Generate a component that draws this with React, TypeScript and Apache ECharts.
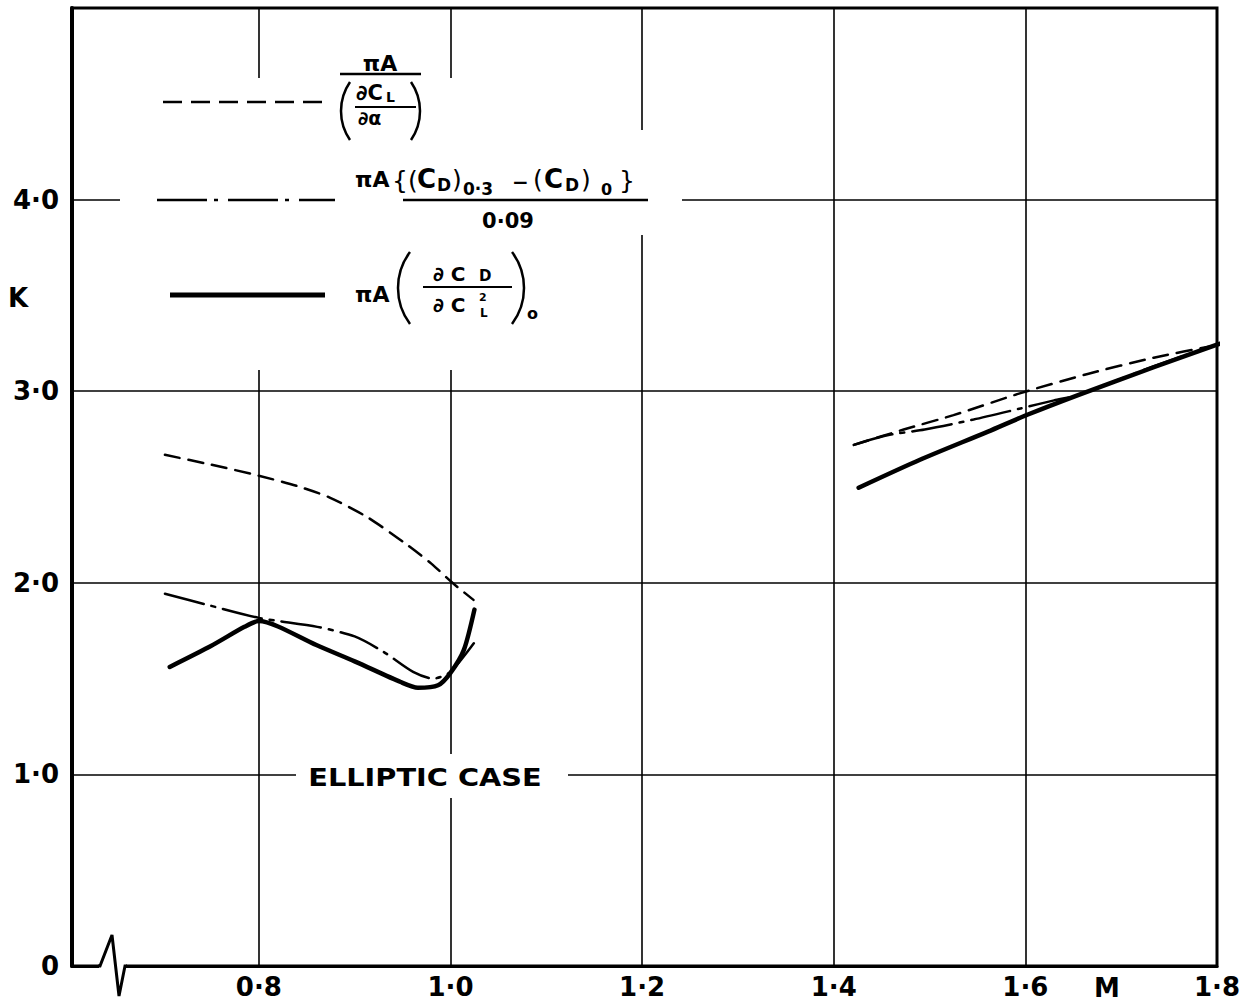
import React, { useEffect, useRef } from "react";
import * as echarts from "echarts";

// ---- data ----
const xTicks = [0.8, 1.0, 1.2, 1.4, 1.6, 1.8];
const xGrid = [0.8, 1.0, 1.2, 1.4, 1.6];
const yTicks = [0, 1, 2, 3, 4];

const dashedLeft = [[0.702, 2.668], [0.75, 2.617], [0.8, 2.559], [0.84, 2.505], [0.874, 2.445], [0.913, 2.343], [0.951, 2.212], [0.98, 2.1], [1.002, 2.0], [1.024, 1.911]];
const dashedRight = [[1.421, 2.72], [1.473, 2.8], [1.525, 2.875], [1.595, 2.99], [1.665, 3.09], [1.734, 3.175], [1.802, 3.243]];
const dashDotLeft = [[0.702, 1.943], [0.75, 1.88], [0.8, 1.817], [0.861, 1.77], [0.9, 1.72], [0.93, 1.64], [0.961, 1.535], [0.982, 1.5], [1.0, 1.535], [1.027, 1.702]];
const dashDotRight = [[1.421, 2.72], [1.456, 2.77], [1.495, 2.8], [1.546, 2.852], [1.595, 2.91], [1.63, 2.952], [1.655, 2.98], [1.734, 3.13], [1.8, 3.243]];
const solidLeft = [[0.707, 1.561], [0.75, 1.67], [0.785, 1.77], [0.8, 1.8], [0.82, 1.772], [0.86, 1.675], [0.9, 1.59], [0.948, 1.482], [0.966, 1.452], [0.987, 1.465], [1.0, 1.53], [1.014, 1.65], [1.025, 1.86]];
const solidRight = [[1.426, 2.496], [1.49, 2.642], [1.561, 2.789], [1.602, 2.877], [1.655, 2.98], [1.734, 3.125], [1.8, 3.243], [1.823, 3.282]];

const FONT = "DejaVu Sans";
const GRID = { left: 72, top: 8, right: 28, bottom: 40 };

const DASHED = [15, 9];
const DASHDOT = [40, 8, 4, 8];

function fmt(v: number) {
  if (v === 0) return "0";
  if (v >= 5) return "";
  return v.toFixed(1).replace(".", "·");
}

function txt(x: number, y: number, text: string, size: number, align = "left", weight = "bold", scaleX = 1) {
  return {
    type: "text",
    x,
    y,
    scaleX,
    z: 101,
    silent: true,
    style: { text, fontSize: size, fontWeight: weight, fontFamily: FONT, fill: "#000", align, verticalAlign: "middle" },
  };
}
function ln(x1: number, y1: number, x2: number, y2: number, w: number, dash?: number[]) {
  return {
    type: "line",
    z: 101,
    silent: true,
    shape: { x1, y1, x2, y2 },
    style: { stroke: "#000", lineWidth: w, lineDash: dash || null, lineCap: "butt" },
  };
}
function rect(x: number, y: number, w: number, h: number) {
  return { type: "rect", z: 100, silent: true, shape: { x, y, width: w, height: h }, style: { fill: "#fff" } };
}
// parenthesis drawn as an arc: edge = extreme x, cy center, half height, sagitta
function paren(edge: number, cy: number, half: number, sag: number, left: boolean, w = 2.5) {
  const r = (half * half + sag * sag) / (2 * sag);
  const a = Math.asin(half / r);
  return {
    type: "arc",
    z: 101,
    silent: true,
    shape: left
      ? { cx: edge + r, cy, r, startAngle: Math.PI - a, endAngle: Math.PI + a, clockwise: true }
      : { cx: edge - r, cy, r, startAngle: -a, endAngle: a, clockwise: true },
    style: { stroke: "#000", lineWidth: w, fill: null },
  };
}

function lineSeries(name: string, data: number[][], type: any, width: number) {
  return {
    name,
    type: "line",
    data,
    smooth: 0.25,
    showSymbol: false,
    symbol: "none",
    clip: false,
    silent: true,
    z: 5,
    lineStyle: { color: "#000", width, type, cap: "round" },
  };
}

export default function App() {
  const ref = useRef<HTMLDivElement>(null);
  useEffect(() => {
    if (!ref.current) return;
    const chart = echarts.init(ref.current, null, { renderer: "svg" });
    const bottomY = 1006 - GRID.bottom;

    const graphic: any[] = [
      // masks that break the grid lines around the key and the label
      rect(120, 78, 512, 292),
      rect(632, 130, 50, 105),
      rect(296, 754, 272, 44),
      // axis break on the M axis
      rect(99, bottomY - 4, 27, 8),
      {
        type: "polyline",
        z: 102,
        silent: true,
        shape: { points: [[98, bottomY], [100, bottomY], [112, bottomY - 31], [119, bottomY + 30], [125, bottomY], [127, bottomY]] },
        style: { stroke: "#000", lineWidth: 3, fill: null, lineJoin: "miter" },
      },
      // axis titles
      txt(8, 298, "K", 26),
      txt(1107, 988, "M", 26, "center"),
      txt(425, 777, "ELLIPTIC CASE", 24, "center", "bold", 1.2),

      // key: dashed
      ln(163, 102, 325, 102, 2.5, [19, 9]),
      txt(380, 63, "πA", 22, "center"),
      ln(340, 74, 421, 74, 2.5),
      paren(341, 111, 29, 9, true),
      paren(420, 111, 29, 9, false),
      txt(356, 93, "∂C", 21),
      txt(386, 97, "L", 14),
      ln(355, 107, 416, 107, 2),
      txt(358, 118, "∂α", 19),

      // key: dash-dot
      ln(157, 200, 335, 200, 2.5, [50, 7, 4, 10]),
      txt(355, 179, "πA", 22),
      txt(392, 180, "{(", 25, "left", "normal"),
      txt(417, 179, "C", 26),
      txt(437, 185, "D", 17),
      txt(452, 179, ")", 25, "left", "normal"),
      txt(463, 189, "0·3", 17),
      txt(512, 182, "−", 20),
      txt(533, 179, "(", 25, "left", "normal"),
      txt(544, 179, "C", 26),
      txt(565, 185, "D", 17),
      txt(581, 179, ")", 25, "left", "normal"),
      txt(601, 189, "0", 16),
      txt(619, 180, "}", 25, "left", "normal"),
      ln(403, 200, 648, 200, 2.5),
      txt(508, 221, "0·09", 21, "center"),

      // key: solid
      ln(170, 295, 325, 295, 5),
      txt(355, 294, "πA", 22),
      paren(398, 288, 36, 12, true),
      paren(524, 288, 36, 12, false),
      txt(433, 274, "∂ C", 20),
      txt(479, 276, "D", 15),
      ln(423, 287, 512, 287, 2),
      txt(433, 305, "∂ C", 20),
      txt(479, 297, "2", 11),
      txt(480, 313, "L", 12),
      txt(527, 313, "o", 16),
    ];

    chart.setOption({
      animation: false,
      backgroundColor: "#fff",
      grid: { ...GRID, show: true, borderColor: "#000", borderWidth: 3, backgroundColor: "transparent" },
      xAxis: {
        type: "value",
        min: 0.605,
        max: 1.8,
        axisLine: { show: true, onZero: false, lineStyle: { color: "#000", width: 3 } },
        axisTick: { show: false },
        splitLine: { show: false },
        axisLabel: {
          customValues: xTicks,
          formatter: (v: number) => fmt(v),
          fontFamily: FONT,
          fontWeight: "bold",
          fontSize: 26,
          color: "#000",
          margin: 8,
        },
      },
      yAxis: {
        type: "value",
        min: 0,
        max: 5,
        interval: 1,
        axisLine: { show: true, lineStyle: { color: "#000", width: 4 } },
        axisTick: { show: false },
        splitLine: { show: true, lineStyle: { color: "#000", width: 1.6 } },
        axisLabel: {
          formatter: (v: number) => (yTicks.includes(v) ? fmt(v) : ""),
          fontFamily: FONT,
          fontWeight: "bold",
          fontSize: 26,
          color: "#000",
          margin: 13,
        },
      },
      series: [
        {
          name: "grid",
          type: "line",
          data: [],
          silent: true,
          z: 1,
          markLine: {
            silent: true,
            symbol: ["none", "none"],
            label: { show: false },
            lineStyle: { color: "#000", width: 1.6, type: "solid" },
            data: xGrid.map((v) => ({ xAxis: v })),
          },
        },
        lineSeries("dashed", dashedLeft, DASHED, 2.5),
        lineSeries("dashed", dashedRight, DASHED, 2.5),
        lineSeries("dashdot", dashDotLeft, DASHDOT, 2.5),
        lineSeries("dashdot", dashDotRight, DASHDOT, 2.5),
        lineSeries("solid", solidLeft, "solid", 4.5),
        lineSeries("solid", solidRight, "solid", 4.5),
      ],
      graphic,
    });
    return () => chart.dispose();
  }, []);
  return <div ref={ref} style={{ position: "absolute", left: 0, top: 0, width: 1245, height: 1006, background: "#fff" }} />;
}
